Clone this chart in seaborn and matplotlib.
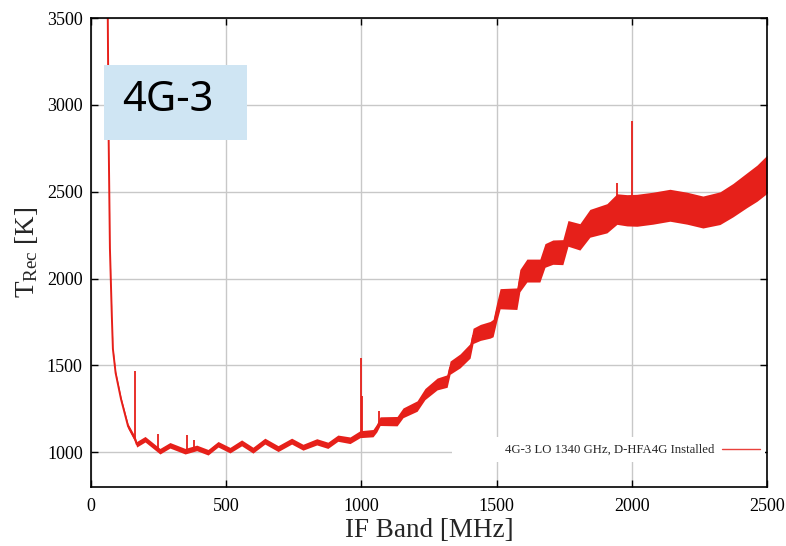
import numpy as np
import pandas as pd
import matplotlib
matplotlib.use("Agg")
import matplotlib.pyplot as plt
import seaborn as sns
from matplotlib.lines import Line2D
from matplotlib.patches import Rectangle

# ---------------- data ----------------
freq_mhz = [60, 62, 65, 70, 77, 81, 91, 111, 137, 163, 169, 200, 255, 292, 348,
            391, 433, 470, 514, 557, 599, 643, 692, 742, 784, 835, 876, 913,
            958, 995, 1043, 1057, 1069, 1132, 1154, 1206, 1235, 1280, 1317,
            1328, 1365, 1402, 1413, 1440, 1476, 1487, 1500, 1513, 1575, 1586,
            1612, 1660, 1679, 1708, 1745, 1764, 1808, 1845, 1908, 1945, 1982,
            2019, 2078, 2141, 2204, 2263, 2326, 2374, 2426, 2463, 2500]
trec_k = [3700, 3520, 2844, 2173, 1786, 1595, 1457, 1306, 1150, 1075, 1046,
          1075, 1006, 1040, 1006, 1025, 1000, 1046, 1012, 1054, 1012, 1064,
          1021, 1064, 1029, 1060, 1040, 1081, 1069, 1104, 1110, 1140, 1179,
          1179, 1227, 1266, 1335, 1393, 1410, 1487, 1526, 1584, 1670, 1690,
          1705, 1715, 1805, 1884, 1884, 1988, 2046, 2046, 2133, 2152, 2152,
          2260, 2240, 2318, 2347, 2400, 2393, 2393, 2405, 2422, 2405, 2383,
          2405, 2451, 2509, 2549, 2600]
# half-width of the noise band around the curve (K)
noise_k = [8, 8, 8, 8, 8, 9, 10, 12, 14, 16, 16, 16, 16, 16, 16, 16, 16, 16,
           16, 17, 17, 17, 17, 17, 17, 18, 18, 18, 19, 20, 21, 23, 25, 27, 28,
           30, 32, 34, 36, 38, 40, 42, 44, 46, 48, 50, 54, 58, 62, 64, 66, 66,
           68, 70, 72, 74, 76, 80, 84, 88, 90, 92, 92, 92, 92, 92, 94, 96, 100,
           104, 110]
spike_x = [162, 248, 355, 381, 998, 1003, 1066, 1945, 2000]
spike_base = [1080, 1010, 1010, 1020, 1104, 1104, 1150, 2400, 2390]
spike_top = [1468, 1104, 1098, 1070, 1545, 1325, 1237, 2550, 2907]

x_ticks = [0, 500, 1000, 1500, 2000, 2500]
y_ticks = [1000, 1500, 2000, 2500, 3000, 3500]
legend_label = "4G-3 LO 1340 GHz, D-HFA4G Installed"
box_label = "4G-3"

RED = "#e6201a"

# ---------------- style ----------------
sns.set_style("ticks")
plt.rcParams["font.family"] = ["Liberation Serif", "DejaVu Serif"]
plt.rcParams["mathtext.fontset"] = "custom"
plt.rcParams["mathtext.rm"] = "Liberation Serif"
plt.rcParams["mathtext.it"] = "Liberation Serif:italic"

fig = plt.figure(figsize=(7.86, 5.46), dpi=100)
ax = fig.add_axes([91 / 786, 1 - 487 / 546, 676 / 786, 469 / 546])

df = pd.DataFrame({"f": freq_mhz, "t": trec_k, "n": noise_k})

ax.fill_between(df["f"], df["t"] - df["n"], df["t"] + df["n"],
                color=RED, lw=0, zorder=3)
sns.lineplot(data=df, x="f", y="t", color=RED, lw=1.4, ax=ax,
             legend=False, zorder=3.5, estimator=None, sort=False)
ax.vlines(spike_x, spike_base, spike_top, color=RED, lw=1.3, zorder=3.5)

ax.set_xlim(0, 2500)
ax.set_ylim(800, 3500)
ax.set_xticks(x_ticks)
ax.set_yticks(y_ticks)
ax.grid(True, color="#c8c8c8", lw=1.0, zorder=0)
ax.set_axisbelow(True)

for s in ax.spines.values():
    s.set_linewidth(1.2)
    s.set_color("black")
    s.set_zorder(5)

ax.tick_params(direction="in", length=5, width=1.0, top=True, right=True,
               labelsize=13, colors="black")
ax.tick_params(axis="x", pad=8)
ax.tick_params(axis="y", pad=6)

ax.set_xlabel("IF Band [MHz]", fontsize=19.5, labelpad=2)
ax.set_ylabel(r"T$_{\mathrm{Rec}}$ [K]", fontsize=19.5)
ax.yaxis.set_label_coords(-0.076, 0.5)

# white area behind the legend (hides the grid)
ax.add_patch(Rectangle((0.534, 0.053), 0.463, 0.054, transform=ax.transAxes,
                       facecolor="white", edgecolor="none", zorder=2.5))
handle = Line2D([0], [0], color=RED, lw=1.0, alpha=0.85)
leg = ax.legend([handle], [legend_label], loc="center right",
                bbox_to_anchor=(0.9896, 0.0789), frameon=False,
                markerfirst=False, handlelength=3.0, handletextpad=0.55,
                borderpad=0, borderaxespad=0,
                prop={"family": "Liberation Serif", "size": 9.2})
leg.set_zorder(6)

# label box
ax.add_patch(Rectangle((0.0192, 0.740), 0.2116, 0.160, transform=ax.transAxes,
                       facecolor="#cfe5f3", edgecolor="none", zorder=6))
ax.text(0.1132, 0.826, box_label, transform=ax.transAxes, ha="center",
        va="center", fontsize=30, family=["Noto Sans", "DejaVu Sans"],
        color="black", zorder=7)

fig.savefig("out.png", dpi=100)
